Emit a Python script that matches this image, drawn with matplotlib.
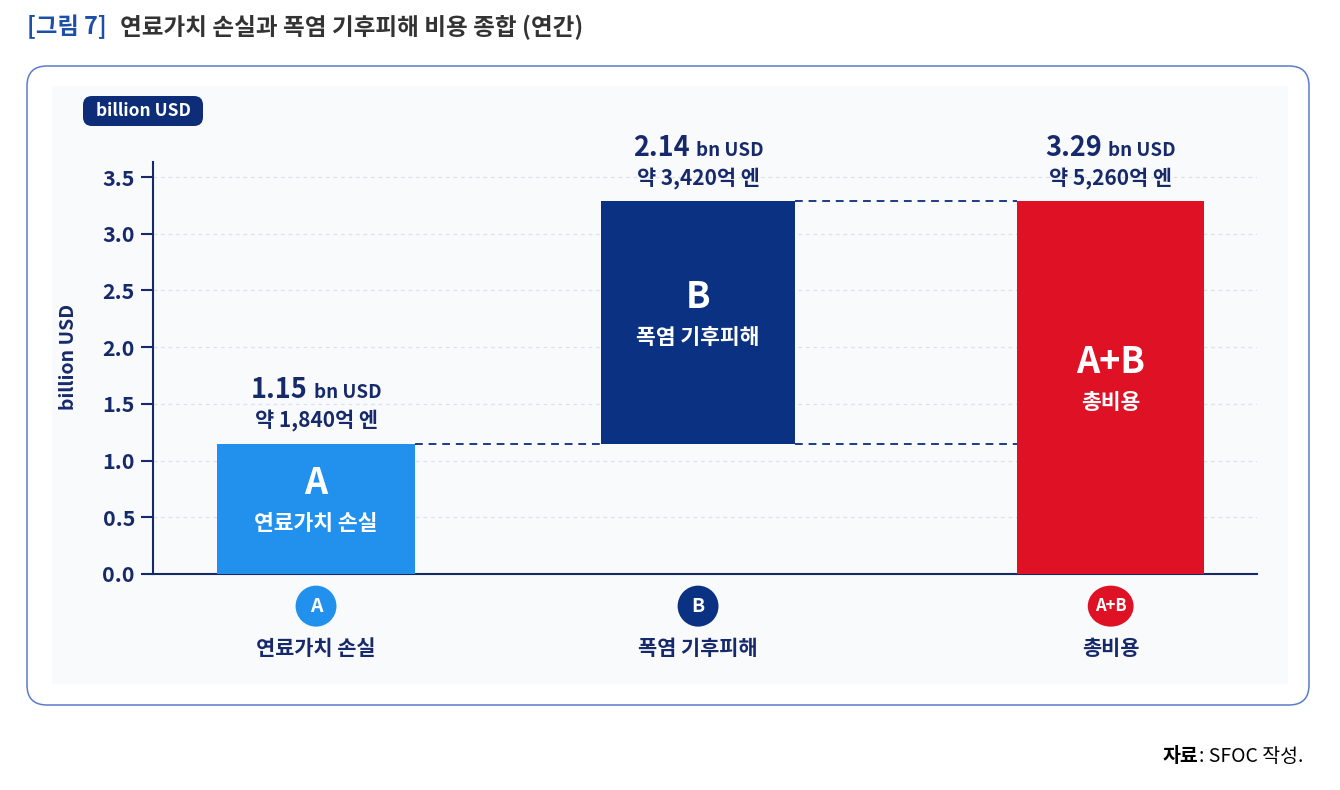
import matplotlib
matplotlib.use("Agg")
import matplotlib.pyplot as plt
from matplotlib.patches import FancyBboxPatch, Ellipse, Rectangle
from matplotlib.transforms import blended_transform_factory

plt.rcParams['font.family'] = ['Noto Sans CJK KR', 'DejaVu Sans']

# data
letters = ['A', 'B', 'A+B']
names = ['연료가치 손실', '폭염 기후피해', '총비용']
values = [1.15, 2.14, 3.29]
bases = [0.0, 1.15, 0.0]
yen_labels = ['약 1,840억 엔', '약 3,420억 엔', '약 5,260억 엔']
yticks = [0.0, 0.5, 1.0, 1.5, 2.0, 2.5, 3.0, 3.5]

# style
colors = ['#2291ee', '#0b3282', '#df1125']
navy = '#16296b'
xpos = [0, 1, 2.08]
widths = [0.52, 0.51, 0.49]

fig = plt.figure(figsize=(13.4, 7.9), dpi=100)

# background layer in pixel coords
bg = fig.add_axes([0, 0, 1, 1])
bg.set_xlim(0, 1340)
bg.set_ylim(790, 0)
bg.axis('off')
bg.add_patch(FancyBboxPatch((27, 66), 1282, 639, boxstyle='round,pad=0,rounding_size=20',
                            fc='white', ec='#5b7ccc', lw=1.1))
bg.add_patch(Rectangle((52, 86), 1236, 598, fc='#f9fafb', ec='none'))

bg.text(27, 27, '[그림 7]', color='#1d4fa8', fontsize=16.8, fontweight='bold', va='center')
bg.text(120, 27, '연료가치 손실과 폭염 기후피해 비용 종합 (연간)', color='#333333',
        fontsize=17, fontweight='bold', va='center')

bg.add_patch(FancyBboxPatch((83, 96), 120, 30, boxstyle='round,pad=0,rounding_size=9',
                            fc='#0d2d78', ec='none'))
bg.text(143, 111, 'billion USD', color='white', fontsize=12.5, fontweight='bold',
        ha='center', va='center')
bg.text(68, 357, 'billion USD', rotation=90, color=navy, fontsize=14, fontweight='bold',
        ha='center', va='center')

src = bg.text(1163, 757, '자료', fontsize=14, fontweight='bold', color='black', va='center')
bg.annotate(': SFOC 작성.', xy=(1, 0.5), xycoords=src, va='center', ha='left',
            fontsize=14, color='black')

# main chart
ax = fig.add_axes([153 / 1340, 216 / 790, 1104 / 1340, 412 / 790])
ax.set_zorder(2)
ax.set_facecolor('none')

ax.bar(xpos, values, width=widths, bottom=bases, color=colors, zorder=3)
ax.set_xlim(-0.4267, 2.463)
ax.set_ylim(0, 3.633)

tops = [b + v for b, v in zip(bases, values)]
dash = dict(color='#1e3a8a', lw=1.4, ls=(0, (4, 3)), zorder=2)
ax.plot([xpos[0] + widths[0] / 2, xpos[1] - widths[1] / 2], [tops[0], tops[0]], **dash)
ax.plot([xpos[1] + widths[1] / 2, xpos[2] - widths[2] / 2], [bases[1], bases[1]], **dash)
ax.plot([xpos[1] + widths[1] / 2, xpos[2] - widths[2] / 2], [tops[1], tops[1]], **dash)


def text_width(s, **kw):
    t = fig.text(0, 0, s, **kw)
    w = t.get_window_extent(fig.canvas.get_renderer()).width
    t.remove()
    return w


num_style = dict(fontsize=19.5, fontweight='bold', color=navy)
unit_style = dict(fontsize=13.5, fontweight='bold', color=navy)
for i in range(3):
    num_s = f'{values[i]:.2f}'
    wn = text_width(num_s, **num_style)
    wu = text_width('bn USD', **unit_style)
    gap = 6
    total = wn + gap + wu
    ax.annotate(num_s, (xpos[i], tops[i] + 0.40), xytext=(-total / 2, 0),
                textcoords='offset pixels', ha='left', va='baseline',
                annotation_clip=False, **num_style)
    ax.annotate('bn USD', (xpos[i], tops[i] + 0.40), xytext=(-total / 2 + wn + gap, 0),
                textcoords='offset pixels', ha='left', va='baseline',
                annotation_clip=False, **unit_style)
    ax.annotate(yen_labels[i], (xpos[i], tops[i] + 0.14), xytext=(0, 0),
                textcoords='offset pixels', ha='center', va='baseline',
                fontsize=15, fontweight='bold', color=navy, annotation_clip=False)

    mid = bases[i] + values[i] / 2
    ax.annotate(letters[i], (xpos[i], mid), xytext=(0, 25), textcoords='offset pixels',
                ha='center', va='center', fontsize=26, fontweight='bold', color='white', zorder=4)
    ax.annotate(names[i], (xpos[i], mid), xytext=(0, -15), textcoords='offset pixels',
                ha='center', va='center', fontsize=15.5, fontweight='bold', color='white', zorder=4)

# category badges below the axis
trans = blended_transform_factory(ax.transData, ax.transAxes)
badge_w = [0.107, 0.107, 0.12]
for i in range(3):
    e = Ellipse((xpos[i], -0.078), width=badge_w[i], height=0.0995, transform=trans,
                fc=colors[i], ec='none', clip_on=False)
    ax.add_artist(e)
    ax.text(xpos[i], -0.078, letters[i], transform=trans, ha='center', va='center',
            color='white', fontweight='bold', fontsize=14 if len(letters[i]) == 1 else 12)
    ax.text(xpos[i], -0.18, names[i], transform=trans, ha='center', va='center',
            color=navy, fontweight='bold', fontsize=15)

ax.set_xticks([])
ax.set_yticks(yticks)
ax.set_yticklabels([f'{t:.1f}' for t in yticks], fontweight='bold')
ax.tick_params(axis='y', length=9, width=1.5, color=navy, labelcolor=navy, labelsize=15.5, pad=4)
for s in ['top', 'right']:
    ax.spines[s].set_visible(False)
for s in ['left', 'bottom']:
    ax.spines[s].set_color(navy)
    ax.spines[s].set_linewidth(1.5)
ax.yaxis.grid(True, color='#dde2ea', ls=(0, (3, 3)), lw=0.9)
ax.set_axisbelow(True)

fig.savefig('out.png', dpi=100)
